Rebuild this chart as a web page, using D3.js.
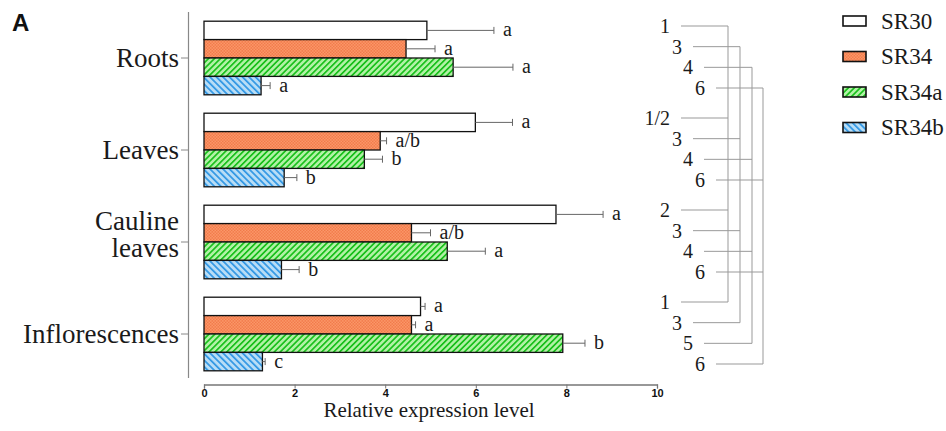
<!DOCTYPE html>
<html>
<head>
<meta charset="utf-8">
<script src="https://cdn.jsdelivr.net/npm/d3@7"></script>
<style>
body { margin: 0; background: #fff; }
.serif { font-family: "Liberation Serif", "Times New Roman", serif; fill: #1a1a1a; }
</style>
</head>
<body>
<div id="mychart"></div>
<script>
var categories = ["Roots", "Leaves", "Cauline leaves", "Inflorescences"];
var series = ["SR30", "SR34", "SR34a", "SR34b"];

var sr30 = [4.92, 5.99, 7.77, 4.78];
var sr34 = [4.46, 3.89, 4.58, 4.58];
var sr34a = [5.50, 3.54, 5.37, 7.92];
var sr34b = [1.26, 1.77, 1.71, 1.29];

var sr30err = [1.48, 0.82, 1.04, 0.10];
var sr34err = [0.64, 0.14, 0.42, 0.09];
var sr34aerr = [1.32, 0.40, 0.84, 0.49];
var sr34berr = [0.20, 0.28, 0.39, 0.06];

var sr30sig = ["a", "a", "a", "a"];
var sr34sig = ["a", "a/b", "a/b", "a"];
var sr34asig = ["a", "b", "a", "b"];
var sr34bsig = ["a", "b", "b", "c"];

var bracketLabels = [["1", "3", "4", "6"], ["1/2", "3", "4", "6"], ["2", "3", "4", "6"], ["1", "3", "5", "6"]];
var xTicks = [0, 2, 4, 6, 8, 10];

var values = [sr30, sr34, sr34a, sr34b];
var errs = [sr30err, sr34err, sr34aerr, sr34berr];
var sigs = [sr30sig, sr34sig, sr34asig, sr34bsig];

var rows = [];
categories.forEach(function(c, ci) {
    series.forEach(function(s, si) {
        rows.push({cat: c, ser: s, v: values[si][ci], e: errs[si][ci], sig: sigs[si][ci]});
    });
});

var svg = d3.select("#mychart").append("svg")
    .attr("width", 946)
    .attr("height", 431);

// fill patterns
var defs = svg.append("defs");

var dots = defs.append("pattern").attr("id", "p-SR34")
    .attr("patternUnits", "userSpaceOnUse").attr("width", 3).attr("height", 3);
dots.append("rect").attr("width", 3).attr("height", 3).attr("fill", "#ffa274");
dots.append("rect").attr("width", 1.5).attr("height", 1.5).attr("fill", "#ee7040");
dots.append("rect").attr("x", 1.5).attr("y", 1.5).attr("width", 1.5).attr("height", 1.5).attr("fill", "#ee7040");

function stripes(id, angle, w, bg, fg) {
    var p = defs.append("pattern").attr("id", id)
        .attr("patternUnits", "userSpaceOnUse")
        .attr("width", w).attr("height", 10)
        .attr("patternTransform", "rotate(" + angle + ")");
    p.append("rect").attr("width", w).attr("height", 10).attr("fill", bg);
    p.append("rect").attr("width", 1.7).attr("height", 10).attr("fill", fg);
}
stripes("p-SR34a", 45, 4.2, "#b2f2a6", "#19c01c");
stripes("p-SR34b", -45, 4.6, "#b8ddf6", "#2e96e4");

var fills = {"SR30": "#ffffff", "SR34": "url(#p-SR34)", "SR34a": "url(#p-SR34a)", "SR34b": "url(#p-SR34b)"};

var x = d3.scaleLinear()
    .domain([0, 10])
    .range([204, 657]);

var y0 = d3.scaleBand()
    .domain(categories)
    .range([12, 380])
    .paddingInner(0.2)
    .paddingOuter(0.1);

var y1 = d3.scaleBand()
    .domain(series)
    .range([0, y0.bandwidth()]);

// y axis line + category ticks
svg.append("line")
    .attr("x1", 188.5).attr("x2", 188.5)
    .attr("y1", 12).attr("y2", 378)
    .attr("stroke", "#888").attr("stroke-width", 1.2);

svg.selectAll(".cattick")
    .data(categories)
    .enter().append("line")
    .attr("x1", 181).attr("x2", 188.5)
    .attr("y1", function(d) { return y0(d) + y0.bandwidth() / 2; })
    .attr("y2", function(d) { return y0(d) + y0.bandwidth() / 2; })
    .attr("stroke", "#888");

var catLabel = svg.selectAll(".catlabel")
    .data(categories)
    .enter().append("text")
    .attr("class", "serif")
    .attr("text-anchor", "end")
    .attr("x", 179)
    .attr("y", function(d) { return y0(d) + y0.bandwidth() / 2; })
    .style("font-size", "27px");

catLabel.each(function(d) {
    var words = d.split(" ");
    var t = d3.select(this);
    if (words.length == 1) {
        t.append("tspan").attr("x", 179).attr("dy", "0.33em").text(d);
    } else {
        t.append("tspan").attr("x", 179).attr("dy", "-0.46em").text(words[0]);
        t.append("tspan").attr("x", 179).attr("dy", "1.0em").text(words[1]);
    }
});

// bars
var bar = svg.selectAll(".bar")
    .data(rows)
    .enter().append("g")
    .attr("class", "bar")
    .attr("transform", function(d) { return "translate(0," + (y0(d.cat) + y1(d.ser)) + ")"; });

bar.append("rect")
    .attr("x", x(0))
    .attr("y", 0)
    .attr("width", function(d) { return x(d.v) - x(0); })
    .attr("height", y1.bandwidth())
    .attr("fill", function(d) { return fills[d.ser]; })
    .attr("stroke", "#111")
    .attr("stroke-width", 1.3);

bar.append("line")
    .attr("x1", function(d) { return x(d.v); })
    .attr("x2", function(d) { return x(d.v + d.e); })
    .attr("y1", y1.bandwidth() / 2)
    .attr("y2", y1.bandwidth() / 2)
    .attr("stroke", "#666");

bar.append("line")
    .attr("x1", function(d) { return x(d.v + d.e); })
    .attr("x2", function(d) { return x(d.v + d.e); })
    .attr("y1", y1.bandwidth() / 2 - 3.5)
    .attr("y2", y1.bandwidth() / 2 + 3.5)
    .attr("stroke", "#666");

bar.append("text")
    .attr("class", "serif")
    .attr("x", function(d) { return x(d.v + d.e) + 9; })
    .attr("y", y1.bandwidth() / 2)
    .attr("dy", "0.3em")
    .style("font-size", "20px")
    .text(function(d) { return d.sig; });

// x axis
var xAxis = svg.append("g")
    .attr("transform", "translate(0,384.5)")
    .call(d3.axisBottom(x).tickValues(xTicks).tickSize(4).tickSizeOuter(4));

xAxis.select(".domain").attr("stroke", "#777").attr("stroke-width", 1.3);
xAxis.selectAll(".tick line").attr("stroke", "#777");
xAxis.selectAll(".tick text")
    .attr("y", 5)
    .style("font-family", "'Liberation Sans', Arial, sans-serif")
    .style("font-weight", "bold")
    .style("font-size", "11px")
    .attr("fill", "#111");

svg.append("text")
    .attr("x", 429)
    .attr("y", 417)
    .attr("text-anchor", "middle")
    .style("font-family", "'Liberation Serif', 'Times New Roman', serif")
    .style("font-size", "21px")
    .attr("fill", "#1a1a1a")
    .text("Relative expression level");

// bracket diagram on the right
var rowOff = d3.scaleLinear().domain([0, 3]).range([-31, 31]);
var lineStart = [681, 693, 704, 716];
var lineEnd = [728, 740, 752, 763];

var brackets = [];
categories.forEach(function(c, ci) {
    bracketLabels[ci].forEach(function(lab, i) {
        brackets.push({cat: c, i: i, label: lab, y: y0(c) + y0.bandwidth() / 2 + rowOff(i) - 1});
    });
});

svg.selectAll(".brline")
    .data(brackets)
    .enter().append("line")
    .attr("x1", function(d) { return lineStart[d.i]; })
    .attr("x2", function(d) { return lineEnd[d.i]; })
    .attr("y1", function(d) { return d.y; })
    .attr("y2", function(d) { return d.y; })
    .attr("stroke", "#999");

[0, 1, 2, 3].forEach(function(i) {
    var ys = brackets.filter(function(d) { return d.i == i; }).map(function(d) { return d.y; });
    svg.append("line")
        .attr("x1", lineEnd[i]).attr("x2", lineEnd[i])
        .attr("y1", d3.min(ys)).attr("y2", d3.max(ys))
        .attr("stroke", "#999");
});

svg.selectAll(".brlabel")
    .data(brackets)
    .enter().append("text")
    .attr("class", "serif")
    .attr("text-anchor", "end")
    .attr("x", function(d) { return lineStart[d.i] - 11; })
    .attr("y", function(d) { return d.y; })
    .attr("dy", "0.35em")
    .style("font-size", "20px")
    .text(function(d) { return d.label; });

// legend
var legend = svg.selectAll(".legend")
    .data(series)
    .enter().append("g")
    .attr("class", "legend")
    .attr("transform", function(d, i) { return "translate(843," + (21 + i * 35.5) + ")"; });

legend.append("rect")
    .attr("x", 0).attr("y", -5)
    .attr("width", 23).attr("height", 10)
    .attr("fill", function(d) { return fills[d]; })
    .attr("stroke", "#111")
    .attr("stroke-width", 1.6);

legend.append("text")
    .attr("class", "serif")
    .attr("x", 38)
    .attr("dy", "0.33em")
    .style("font-size", "23px")
    .text(function(d) { return d; });

svg.append("text")
    .attr("x", 12)
    .attr("y", 31)
    .style("font-family", "'Liberation Sans', Arial, sans-serif")
    .style("font-weight", "bold")
    .style("font-size", "24px")
    .attr("fill", "#111")
    .text("A");
</script>
</body>
</html>
